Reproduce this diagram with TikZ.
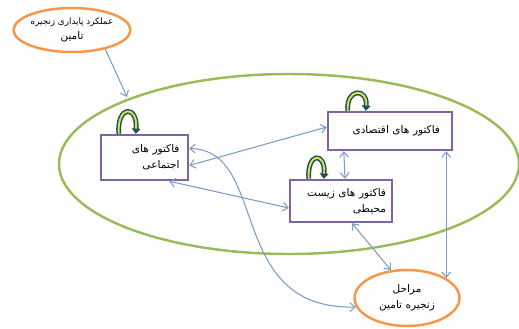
\documentclass[tikz,border=0pt]{standalone}
\usepackage{fontspec}
\usepackage{tikz}
\usetikzlibrary{arrows.meta, shapes.geometric, calc}
\newfontfamily\arabicfont[Script=Arabic]{DejaVu Sans}
\TeXXeTstate=1
\definecolor{ringgreen}{HTML}{9BBB59}
\definecolor{ovalorange}{HTML}{F79646}
\definecolor{boxpurple}{HTML}{8064A2}
\definecolor{linkblue}{HTML}{7A9CC8}
\definecolor{loopdark}{HTML}{1F4F5F}
\definecolor{loopyellow}{HTML}{D4E34A}

\begin{document}
\begin{tikzpicture}[x=0.02cm, y=-0.02cm,
  factor/.style={draw=boxpurple, line width=1.4pt, fill=white, inner sep=0pt},
  oval/.style={ellipse, draw=ovalorange, line width=1.4pt, fill=white, align=center, inner sep=0pt},
  link/.style={draw=linkblue, line width=0.6pt},
  loopband/.style={draw=loopdark, line width=2.8pt, -{Triangle[length=3pt,width=5pt]}},
  loopcore/.style={draw=loopyellow, line width=1.1pt, shorten >=3pt}]
\useasboundingbox (0,0) rectangle (519,328);

% the big group ring
\draw[ringgreen, line width=1.4pt] (289,164) ellipse [x radius=230, y radius=90];
\coordinate (ringtop) at (127,97);

\begin{scope}[every node/.style={font=\arabicfont\fontsize{6}{9}\selectfont, align=right}]
  \node[oval, minimum width=2.32cm, minimum height=0.88cm] (perf) at (72,30)
    {{\fontsize{5}{8}\selectfont\beginR عملکرد پایداری زنجیره\endR}\\\beginR تامین\endR};
  \node[factor, minimum width=1.74cm, minimum height=0.9cm, text width=1.4cm] (soc) at (144.5,157.5)
    {\beginR فاکتور های\endR\\\beginR اجتماعی\endR};
  \node[factor, minimum width=2.48cm, minimum height=0.76cm, text width=2.0cm] (eco) at (390,131)
    {\beginR فاکتور های اقتصادی\endR\\[2pt]};
  \node[factor, minimum width=2.04cm, minimum height=0.84cm, text width=1.8cm] (env) at (341,201)
    {\beginR فاکتور های زیست\endR\\\beginR محیطی\endR};
  \node[oval, minimum width=2.1cm, minimum height=1.12cm] (stage) at (407,298)
    {\beginR مراحل\endR\\\beginR زنجیره تامین\endR};
\end{scope}

% self loops on the factor boxes
\foreach \n/\l/\r/\h in {soc/19/36/29, eco/21/39/23, env/20/35/27} {
  \draw[loopband] ($(\n.north west)+(\l,0)$) .. controls +(-2,-\h) and +(2,-\h) .. ($(\n.north west)+(\r,0)$);
  \draw[loopcore] ($(\n.north west)+(\l,0)$) .. controls +(-2,-\h) and +(2,-\h) .. ($(\n.north west)+(\r,0)$);
}

\begin{scope}[>={Straight Barb[length=3pt,width=5pt]},
              every edge/.style={link}]
    \path[->] (perf.-30) edge (ringtop);
    \path[<->] ($(soc.east)+(0,8)$) edge ($(eco.west)+(0,-4)$);
    \path[<->] ($(soc.south east)+(-20,0)$) edge ($(env.west)+(0,7)$);
    \path[<->] ($(eco.south west)+(17,0)$) edge ($(env.north)+(4,0)$);
    \path[<->] (eco.south -| stage.27) edge (stage.27);
    \path[<->] ($(env.south)+(11,0)$) edge (stage.120);
    \draw[link, <->] ($(soc.east)+(0,-9)$) .. controls (270,150) and (225,310) .. (stage.190);
\end{scope}

\end{tikzpicture}
\end{document}
